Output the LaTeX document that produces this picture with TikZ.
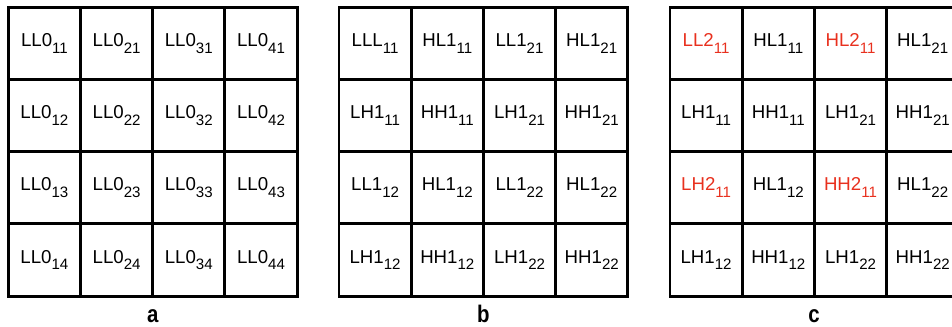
\documentclass[tikz,border=0pt]{standalone}
\usepackage{fontspec}
\setmainfont{Liberation Sans}
\definecolor{hred}{RGB}{232,48,30}
\newcommand{\sbs}[1]{\raisebox{-5pt}{\fontsize{11.3pt}{11.3pt}\selectfont #1}}
\newcommand{\capt}[1]{\scalebox{0.85}[1]{#1}}
\begin{document}
\begin{tikzpicture}[x=0.75pt,y=-0.75pt,
  cell/.style={draw=black, line width=2.2pt, minimum width=54.15pt, minimum height=54.15pt,
    inner sep=0pt, outer sep=0pt, font=\fontsize{14pt}{14pt}\selectfont},
  hot/.style={text=hred},
  caption/.style={font=\bfseries\fontsize{18pt}{18pt}\selectfont, inner sep=0pt, anchor=base}]
\clip (0,0) rectangle (952,327);
% grid a
\foreach \c in {0,...,3}{
  \foreach \r in {0,...,3}{
    \pgfmathtruncatemacro\cc{\c+1}
    \pgfmathtruncatemacro\rr{\r+1}
    \node[cell] (a-\c-\r) at ({8.3+36.1+72.2*\c},{7.3+36.1+72.2*\r}) {LL0\sbs{\cc\rr}};
  }
}
% grid b
\foreach \c/\r/\t/\s in {
  0/0/LLL/11, 1/0/HL1/11, 2/0/LL1/21, 3/0/HL1/21,
  0/1/LH1/11, 1/1/HH1/11, 2/1/LH1/21, 3/1/HH1/21,
  0/2/LL1/12, 1/2/HL1/12, 2/2/LL1/22, 3/2/HL1/22,
  0/3/LH1/12, 1/3/HH1/12, 2/3/LH1/22, 3/3/HH1/22}{
  \node[cell] (b-\c-\r) at ({339+36.1+72.2*\c},{7.3+36.1+72.2*\r}) {\t\sbs{\s}};
}
% grid c
\foreach \c/\r/\t/\s/\k in {
  0/0/LL2/11/hot, 1/0/HL1/11/cell, 2/0/HL2/11/hot, 3/0/HL1/21/cell,
  0/1/LH1/11/cell, 1/1/HH1/11/cell, 2/1/LH1/21/cell, 3/1/HH1/21/cell,
  0/2/LH2/11/hot, 1/2/HL1/12/cell, 2/2/HH2/11/hot, 3/2/HL1/22/cell,
  0/3/LH1/12/cell, 1/3/HH1/12/cell, 2/3/LH1/22/cell, 3/3/HH1/22/cell}{
  \node[cell,\k] (c-\c-\r) at ({670+36.1+72.2*\c},{7.3+36.1+72.2*\r}) {\t\sbs{\s}};
}
\node[caption] (la) at (152.8,322) {\capt{a}};
\node[caption] (lb) at (483.3,322) {\capt{b}};
\node[caption] (lc) at (814,322) {\capt{c}};
\end{tikzpicture}
\end{document}
